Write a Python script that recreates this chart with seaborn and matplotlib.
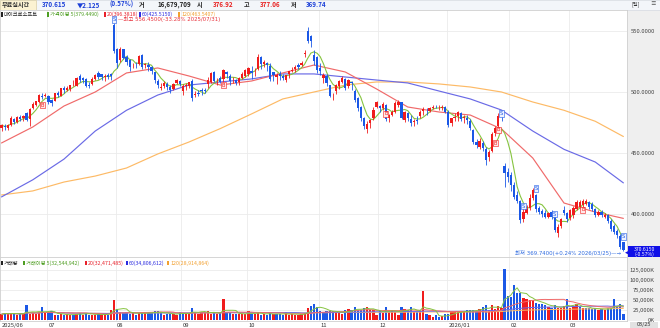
import numpy as np
import pandas as pd
import matplotlib
matplotlib.use("Agg")
import matplotlib.pyplot as plt
import seaborn as sns
from matplotlib.patches import Rectangle

# ---------------- data ----------------
month_labels = ['2025/06', '07', '08', '09', '10', '11', '12', '2026/01', '02', '03']
month_start_idx = [0, 15, 37, 58, 79, 102, 121, 143, 163, 182]

opens = [470.5, 472.5, 470.5, 473.0, 477.5, 475.5, 479.5, 478.5, 482.5, 477.5, 487.0, 489.5, 491.5, 497.0, 497.0,
         496.5, 493.5, 493.0, 499.5, 497.0, 503.0, 501.5, 502.5, 505.5, 505.0, 513.0, 511.5, 511.0, 505.5, 506.5,
         510.5, 515.5, 514.5, 512.5, 514.0, 515.0, 555.2,
         535.0, 526.0, 535.0, 529.0, 526.5, 522.0, 522.5, 523.0, 530.0, 522.5, 522.0, 520.5, 516.5, 509.0, 503.5,
         504.5, 506.5, 504.0, 502.5, 507.0, 509.0,
         501.0, 504.5, 505.0, 509.0, 497.5, 499.5, 502.0, 502.0, 506.5, 508.0, 516.5, 509.5, 511.5, 510.5, 516.0,
         513.0, 509.5, 510.0, 508.5, 511.5, 513.5,
         514.5, 517.5, 517.0, 518.5, 528.5, 523.0, 523.5, 521.5, 516.0, 512.0, 514.5, 513.0, 510.0, 515.0, 517.0,
         519.0, 522.0, 522.5, 531.5, 550.0, 545.5, 530.5, 528.5,
         519.5, 511.5, 513.5, 505.5, 496.5, 500.5, 505.0, 508.5, 510.5, 505.0, 508.5, 500.5, 495.0, 488.0, 479.0,
         470.0, 474.5, 478.5, 487.5,
         488.5, 486.5, 489.5, 478.5, 481.0, 484.0, 489.5, 491.5, 477.0, 482.5, 477.5, 475.5, 477.0, 480.0, 484.5,
         485.5, 484.5, 487.0, 488.0, 486.5, 486.5, 487.5,
         484.0, 474.5, 479.0, 480.5, 482.5, 479.0, 478.5, 476.0, 468.5, 459.0, 455.0, 458.5, 453.0, 447.0, 452.0,
         466.5, 472.0, 482.0, 439.5, 434.5,
         432.0, 424.0, 415.5, 410.5, 396.0, 401.0, 405.0, 413.5, 415.5, 405.0, 402.5, 401.0, 397.5, 401.5, 398.0,
         384.5, 390.0, 403.0, 400.5,
         396.5, 399.5, 404.0, 406.0, 407.0, 408.5, 410.0, 408.0, 404.0, 399.5, 402.0, 397.5, 399.0, 394.5, 390.0,
         386.0, 382.0, 376.92]
highs = [474.0, 473.5, 473.5, 480.0, 478.5, 480.5, 481.0, 481.5, 483.5, 487.0, 491.5, 493.0, 498.0, 499.0, 499.5,
         497.5, 494.0, 499.0, 500.5, 503.5, 504.5, 505.0, 506.0, 510.0, 512.0, 514.5, 512.5, 511.5, 508.5, 512.0,
         514.5, 517.0, 515.0, 514.5, 515.5, 515.5, 556.45,
         536.0, 536.5, 535.5, 530.0, 527.0, 524.0, 524.5, 530.5, 531.0, 524.0, 524.5, 521.0, 516.5, 510.5, 507.0,
         509.0, 508.0, 505.5, 507.5, 511.0, 509.5,
         506.5, 507.0, 508.5, 511.0, 501.0, 501.5, 503.0, 503.5, 512.0, 516.0, 517.0, 511.5, 513.0, 519.0, 517.5,
         514.5, 512.0, 510.5, 512.5, 516.0, 518.5,
         520.5, 521.0, 520.0, 531.0, 529.5, 526.0, 524.5, 523.5, 516.5, 515.5, 517.0, 514.5, 514.0, 517.0, 520.5,
         522.0, 523.5, 525.0, 534.5, 553.5, 546.5, 534.5, 529.5,
         524.0, 515.5, 514.5, 505.5, 499.5, 506.5, 509.5, 513.5, 511.5, 511.0, 509.0, 502.5, 496.0, 488.5, 479.5,
         476.0, 477.5, 488.0, 492.5,
         489.5, 492.0, 490.0, 482.0, 485.5, 492.5, 493.5, 492.0, 484.5, 484.0, 481.0, 478.0, 480.0, 485.0, 487.5,
         486.5, 487.5, 489.0, 489.5, 489.0, 489.0, 488.5,
         485.5, 479.0, 483.0, 484.5, 484.0, 481.5, 481.0, 477.5, 470.0, 461.5, 462.0, 460.0, 455.0, 452.5, 467.0,
         472.0, 482.5, 484.0, 442.0, 437.5,
         434.5, 426.5, 418.5, 411.5, 405.0, 407.5, 416.0, 421.5, 416.0, 406.5, 404.0, 403.0, 402.0, 403.0, 399.5,
         391.5, 396.5, 406.5, 401.5,
         404.5, 406.5, 411.5, 411.5, 412.0, 412.5, 411.0, 409.5, 405.0, 403.5, 403.5, 400.5, 400.0, 395.5, 391.5,
         388.0, 383.5, 377.06]
lows = [468.0, 468.5, 469.0, 472.5, 473.5, 474.5, 476.0, 476.5, 476.5, 472.0, 486.0, 488.5, 491.0, 494.0, 496.0,
        490.0, 488.5, 492.5, 495.5, 496.5, 499.5, 500.5, 501.0, 504.5, 504.5, 508.0, 507.5, 504.0, 503.0, 506.0,
        509.5, 511.0, 510.0, 509.0, 510.5, 510.0, 531.9,
        520.0, 524.5, 527.0, 522.0, 517.5, 519.5, 519.5, 522.5, 519.0, 519.5, 517.5, 514.5, 507.0, 503.0, 502.0,
        503.0, 502.0, 499.0, 502.0, 506.5, 504.5,
        497.5, 502.0, 503.5, 492.5, 495.5, 497.0, 497.5, 499.0, 503.5, 507.5, 508.0, 506.0, 507.0, 508.5, 511.5,
        506.0, 507.0, 505.5, 506.0, 511.0, 512.5,
        513.5, 510.5, 513.0, 518.0, 518.5, 520.5, 517.5, 509.0, 509.0, 506.5, 510.0, 509.5, 508.0, 511.5, 516.0,
        516.0, 518.5, 521.0, 529.0, 540.0, 536.5, 522.0, 515.5,
        514.0, 507.5, 505.0, 495.5, 493.5, 498.5, 502.5, 507.0, 501.5, 503.0, 502.0, 492.0, 484.5, 476.5, 470.0,
        466.0, 470.5, 477.0, 486.5,
        484.0, 485.5, 476.5, 475.5, 480.0, 483.0, 488.0, 477.5, 475.5, 476.5, 472.5, 472.0, 473.5, 478.5, 481.5,
        481.5, 483.5, 486.0, 486.5, 485.5, 485.5, 482.5,
        471.0, 472.0, 476.5, 476.5, 476.0, 474.5, 474.0, 468.5, 457.5, 454.0, 453.5, 451.5, 440.5, 443.5, 451.0,
        464.0, 471.5, 476.5, 422.0, 426.0,
        419.0, 412.5, 409.0, 392.5, 393.5, 400.0, 403.5, 411.5, 402.0, 400.0, 397.5, 396.5, 396.5, 396.0, 385.0,
        381.5, 388.5, 399.5, 393.5,
        395.0, 397.0, 403.0, 404.5, 405.5, 407.0, 404.0, 402.5, 397.5, 398.0, 397.5, 396.5, 393.0, 386.0, 383.5,
        380.5, 371.5, 369.74]
closes = [472.8, 470.9, 472.6, 478.9, 475.0, 479.1, 478.0, 480.2, 477.4, 486.0, 490.1, 492.3, 497.5, 495.9, 497.4,
          492.0, 491.0, 498.8, 497.7, 503.3, 501.5, 503.3, 505.8, 505.6, 511.7, 510.0, 510.0, 505.3, 505.2, 510.9,
          513.7, 512.5, 512.5, 513.2, 512.6, 513.2, 533.5,
          524.1, 535.6, 527.8, 524.9, 520.8, 522.0, 521.8, 529.2, 520.6, 522.5, 520.2, 517.1, 509.8, 505.7, 504.2,
          507.2, 504.3, 502.0, 506.7, 509.6, 506.7,
          505.1, 505.4, 508.0, 495.0, 498.2, 498.4, 500.4, 501.0, 509.9, 515.4, 509.0, 510.0, 508.5, 517.9, 514.5,
          509.2, 510.2, 507.0, 511.5, 514.6, 518.0,
          519.7, 515.7, 517.4, 528.6, 523.0, 524.9, 522.4, 511.0, 514.1, 513.6, 513.4, 511.6, 513.6, 516.8, 517.7,
          520.5, 520.6, 523.6, 531.5, 542.1, 541.6, 525.8, 517.8,
          517.0, 514.3, 507.2, 497.1, 496.8, 506.0, 508.7, 511.1, 503.3, 510.2, 507.5, 493.8, 487.1, 478.4, 472.1,
          474.0, 477.0, 485.5, 492.0,
          486.7, 490.0, 477.7, 480.8, 483.2, 491.0, 492.0, 478.6, 483.5, 478.5, 474.8, 476.4, 476.1, 484.0, 485.9,
          484.9, 486.9, 488.0, 487.7, 487.1, 487.5, 483.6,
          472.9, 478.5, 479.3, 483.5, 478.1, 479.3, 477.2, 470.7, 459.4, 456.7, 459.9, 454.5, 444.1, 451.1, 465.9,
          470.3, 480.6, 481.0, 433.5, 430.3,
          423.4, 414.2, 411.0, 395.0, 401.6, 404.4, 413.3, 419.5, 403.8, 401.3, 399.6, 397.5, 400.6, 397.2, 386.5,
          389.5, 395.5, 401.0, 396.0,
          403.0, 405.0, 410.0, 409.5, 411.0, 410.5, 405.5, 404.0, 399.0, 402.0, 399.0, 399.5, 394.0, 387.5, 385.0,
          383.0, 372.74, 370.615]
volumes_k = [15300, 19200, 16100, 17500, 17600, 14100, 17800, 16300, 37600, 17300, 17500, 16800, 21000, 34500, 19600,
             18800, 22500, 13900, 12500, 16900, 13800, 15400, 13100, 14200, 17300, 19000, 14200, 18800, 14300, 14800,
             13300, 16700, 14600, 15900, 14100, 26500, 51600,
             28500, 22000, 19100, 21600, 16900, 18200, 14500, 19700, 19800, 17500, 20300, 18400, 22500, 22300, 18900,
             14700, 16700, 15900, 17200, 14100, 20900,
             19000, 15500, 15800, 31900, 21600, 16900, 22000, 18800, 23300, 17100, 19700, 15800, 18000, 52400, 20500,
             19800, 15800, 15700, 16200, 17100, 16200,
             22600, 16300, 15700, 21700, 14600, 15100, 14600, 19600, 15600, 15800, 15600, 13700, 21500, 13500, 15600,
             14500, 14500, 15500, 18700, 29900, 36000, 41000, 34000,
             22400, 22100, 23000, 24000, 24300, 19600, 17900, 17300, 26000, 28500, 25500, 33100, 25200, 26700, 31800,
             34200, 25700, 25800, 14800,
             23900, 19500, 33000, 21000, 22300, 21500, 14700, 34000, 29400, 26400, 33000, 20100, 20400, 24200, 71800,
             16400, 14700, 8700, 12600, 8100, 10100, 15300,
             16000, 20000, 21700, 22300, 20100, 22700, 25000, 25300, 25700, 24000, 29500, 34200, 37700, 26000, 38500,
             28000, 35000, 32000, 128600, 60000,
             59000, 88000, 69000, 69000, 55000, 53000, 51000, 51000, 43000, 42000, 40000, 38000, 33000, 31000, 38000,
             30000, 32000, 36000, 52000,
             31000, 36000, 42000, 33000, 31000, 30000, 31000, 28000, 30000, 27000, 29000, 27000, 30000, 31000, 52000,
             34000, 40000, 16700]

# moving-average lines (one reading every 10 sessions)
ma_sample_idx = [0, 10, 20, 30, 40, 50, 60, 70, 80, 90, 100, 110, 120, 130, 140, 150, 160, 170, 180, 190, 199]
ma20_vals = [458.2, 471.3, 488.5, 500.0, 515.6, 519.7, 513.1, 505.7, 509.0, 515.6, 522.1, 516.4, 502.5, 487.7,
             483.6, 481.1, 469.7, 445.9, 409.0, 401.6, 396.4]
ma60_vals = [414.0, 428.0, 445.0, 468.0, 485.0, 497.5, 505.7, 508.2, 510.7, 514.8, 514.8, 512.3, 509.8, 507.4,
             500.8, 494.3, 485.2, 468.0, 453.0, 442.6, 425.5]
ma120_vals = [415.6, 418.9, 426.2, 431.1, 437.7, 449.2, 459.0, 470.0, 482.0, 494.3, 500.0, 505.7, 508.2, 508.2,
              506.6, 504.1, 500.0, 491.8, 485.0, 476.0, 463.5]

price_ticks = [400, 450, 500, 550]
volume_ticks = [0, 25000, 50000, 75000, 100000, 125000]

signal_idx = [13, 71, 123, 158, 159, 160, 167, 171, 177, 186, 199]
signal_price = [489.3, 505.7, 482.0, 458.0, 468.9, 482.5, 406.5, 421.0, 399.8, 403.3, 381.4]
signal_kind = ['B', 'B', 'B', 'B', 'B', 'S', 'S', 'S', 'S', 'B', 'S']

price_legend = ['마이크로소프트', '가격이평 5(379.4490)', '20(396.3818)', '60(425.5150)', '120(463.5407)']
volume_legend = ['거래량', '거래이평 5(32,544,942)', '20(32,471,485)', '60(34,806,612)', '120(28,914,864)']

n = len(closes)
assert len(opens) == n and len(highs) == n and len(lows) == n and len(volumes_k) == n == 200

# ---------------- style ----------------
sns.set_theme(style="white")
plt.rcParams['font.family'] = ['Noto Sans CJK KR', 'DejaVu Sans']
plt.rcParams['axes.unicode_minus'] = False

RED = '#F01C1C'
BLUE = '#1B58E6'
C5, C20, C60, C120 = '#86C440', '#F06A6A', '#6A6AE6', '#FDBA66'
GRID = '#EBEBEB'
TXT_COLORS = ['#222222', '#4E9E22', '#E8202A', '#2B2BE0', '#F2A030']

W, H = 660, 328
def fx(px):
    return px / W
def fy(py):
    return 1 - py / H

fig = plt.figure(figsize=(W / 100, H / 100), dpi=100)
fig.patch.set_facecolor('white')

ax_p = fig.add_axes([0, fy(257), 627 / W, (257 - 10) / H])
ax_v = fig.add_axes([0, fy(321), 627 / W, (321 - 257) / H], sharex=ax_p)

x = np.arange(n)
o = np.array(opens); h = np.array(highs); l = np.array(lows); c = np.array(closes)
v = np.array(volumes_k, dtype=float)

# ---- price panel ----
for m in month_start_idx[1:]:
    ax_p.axvline(m - 0.5, color=GRID, lw=0.6, zorder=0)
    ax_v.axvline(m - 0.5, color=GRID, lw=0.6, zorder=0)
for t in price_ticks:
    ax_p.axhline(t, color=GRID, lw=0.6, zorder=0)
for t in volume_ticks[1:]:
    ax_v.axhline(t, color=GRID, lw=0.6, zorder=0)

sns.lineplot(x=ma_sample_idx, y=ma120_vals, ax=ax_p, color=C120, lw=0.85, zorder=2)
sns.lineplot(x=ma_sample_idx, y=ma60_vals, ax=ax_p, color=C60, lw=0.85, zorder=2)
sns.lineplot(x=ma_sample_idx, y=ma20_vals, ax=ax_p, color=C20, lw=0.85, zorder=2)
ma5 = pd.Series(c).rolling(5, min_periods=1).mean()
sns.lineplot(x=x, y=ma5.values, ax=ax_p, color=C5, lw=0.8, zorder=2)

cc = np.where(c >= o, RED, BLUE)
ax_p.vlines(x, l, h, colors=cc, lw=0.6, zorder=3)
ax_p.bar(x, np.maximum(np.abs(c - o), 0.35), bottom=np.minimum(o, c), width=0.72,
         color=cc, linewidth=0, zorder=4)

for i, p, k in zip(signal_idx, signal_price, signal_kind):
    col = BLUE if k == 'S' else RED
    fc = '#EEF2FF' if k == 'S' else '#FFE8E8'
    ax_p.text(i, p, k, fontsize=3.6, color=col, ha='center', va='center', zorder=6,
              family=['DejaVu Sans'],
              bbox=dict(boxstyle='square,pad=0.15', fc=fc, ec=col, lw=0.4))

ax_p.text(36, 559.6, 'S', fontsize=3.6, color=BLUE, ha='center', va='center', zorder=6,
          family=['DejaVu Sans'], bbox=dict(boxstyle='square,pad=0.15', fc='#EEF2FF', ec=BLUE, lw=0.4))
ax_p.text(37.2, 559.6, '—최고 556.4500(-33.28% 2025/07/31)', fontsize=3.9, color='#E8303A',
          ha='left', va='center', zorder=6, family=['DejaVu Sans', 'Noto Sans CJK KR'])
ax_p.text(198.2, 368.2, '최저 369.7400(+0.24% 2026/03/25)—→', fontsize=3.9, color='#2F6BE0',
          ha='right', va='center', zorder=6, family=['DejaVu Sans', 'Noto Sans CJK KR'])

ax_p.set_xlim(-0.48, 200.16)
ax_p.set_ylim(364.75, 567.2)
ax_p.yaxis.tick_right()
ax_p.set_yticks(price_ticks)
ax_p.set_yticklabels([f'{t:.4f}' for t in price_ticks])
ax_p.tick_params(axis='y', length=0, pad=20.0, labelsize=4.2, labelcolor='#444444')
for lab in ax_p.get_yticklabels():
    lab.set_ha('right')
ax_p.tick_params(axis='x', length=0, labelbottom=False)
ax_p.set_xlabel(''); ax_p.set_ylabel('')

# ---- volume panel ----
prev = np.concatenate([[o[0]], c[:-1]])
vc = np.where(c >= prev, RED, BLUE)
ax_v.bar(x, v, width=0.72, color=vc, linewidth=0, zorder=3)
for win, col in [(120, C120), (60, C60), (20, C20), (5, C5)]:
    vm = pd.Series(v).rolling(win, min_periods=1).mean()
    sns.lineplot(x=x, y=vm.values, ax=ax_v, color=col, lw=0.7, zorder=4)
ax_v.set_ylim(-1240, 157200)
ax_v.yaxis.tick_right()
ax_v.set_yticks(volume_ticks)
ax_v.set_yticklabels([f'{t:,}K' for t in volume_ticks])
ax_v.tick_params(axis='y', length=0, pad=20.0, labelsize=4.2, labelcolor='#444444')
for lab in ax_v.get_yticklabels():
    lab.set_ha('right')
ax_v.set_xticks(month_start_idx)
ax_v.set_xticklabels(month_labels)
ax_v.tick_params(axis='x', length=0, pad=1.2, labelsize=4.2, labelcolor='#333333')
for lab in ax_v.get_xticklabels():
    lab.set_ha('left')
ax_v.set_xlabel(''); ax_v.set_ylabel('')

for ax in (ax_p, ax_v):
    for s in ax.spines.values():
        s.set_color('#CFCFCF'); s.set_linewidth(0.6)
    ax.set_facecolor('white')
    ax.grid(False)

# ---- frame, header, legends ----
fig.patches.append(Rectangle((fx(627), fy(321)), 33 / W, 311 / H, transform=fig.transFigure,
                             fc='#EFEFEF', ec='none', zorder=-1))
fig.patches.append(Rectangle((0, fy(9.5)), 1, 9.5 / H, transform=fig.transFigure,
                             fc='#F3F6FA', ec='#D5D9E0', lw=0.5, zorder=-1))
fig.patches.append(Rectangle((0, fy(9.5)), 36 / W, 9.5 / H, transform=fig.transFigure,
                             fc='#FBF2D2', ec='#D9CFA8', lw=0.5, zorder=-1))
fig.patches.append(Rectangle((fx(628), fy(257)), 32 / W, 11 / H, transform=fig.transFigure,
                             fc='#1010E8', ec='none', zorder=5))
fig.patches.append(Rectangle((fx(630), fy(328)), 28 / W, 6.5 / H, transform=fig.transFigure,
                             fc='#E2E2E2', ec='none', zorder=-1))

def ftext(px, py, s, color, size=4.3, weight='normal', ha='left', **kw):
    fig.text(fx(px), fy(py), s, color=color, fontsize=size, fontweight=weight,
             ha=ha, va='center', zorder=7, **kw)

def legend_item(px, py, s, color):
    fig.patches.append(Rectangle((fx(px), fy(py + 2.2)), 1.6 / W, 4.4 / H, transform=fig.transFigure,
                                 fc=color, ec='none', zorder=6))
    ftext(px + 3.0, py, s, color, 3.8)

ftext(2, 4.8, '무료실시간', '#333333', 4.4, 'bold')
ftext(42, 4.8, '370.615', '#1B3FD8', 4.5, 'bold')
ftext(77, 4.8, '▼2.125', '#1B3FD8', 4.5, 'bold')
ftext(110, 4.8, '(0.57%)', '#1B3FD8', 4.5, 'bold')
ftext(139, 4.8, '거', '#222222', 4.4, 'bold')
ftext(158, 4.8, '16,679,709', '#222222', 4.5, 'bold')
ftext(197, 4.8, '시', '#222222', 4.4, 'bold')
ftext(213, 4.8, '376.92', '#E82020', 4.5, 'bold')
ftext(244, 4.8, '고', '#222222', 4.4, 'bold')
ftext(260, 4.8, '377.06', '#E82020', 4.5, 'bold')
ftext(291, 4.8, '저', '#222222', 4.4, 'bold')
ftext(306, 4.8, '369.74', '#1B3FD8', 4.5, 'bold')
ftext(632, 4.2, '[일]', '#333333', 3.8)
ftext(650, 4.2, '≡', '#555555', 4.0)

for px, s, col in zip([1, 47, 104, 139, 178], price_legend, TXT_COLORS):
    legend_item(px, 14.3, s, col)
for px, s, col in zip([1, 23, 85, 126, 167], volume_legend, TXT_COLORS):
    legend_item(px, 263.0, s, col)

ftext(644, 249.2, '370.6150', 'white', 3.7, ha='center')
ftext(644, 254.4, '(-0.57%)', 'white', 3.7, ha='center')
ftext(626.5, 251.5, '◀', '#1010E8', 3.4, ha='center', family=['DejaVu Sans'])
ftext(644, 324.8, '03/25', '#333333', 4.0, ha='center')

fig.savefig('out.png', dpi=100, facecolor='white')
